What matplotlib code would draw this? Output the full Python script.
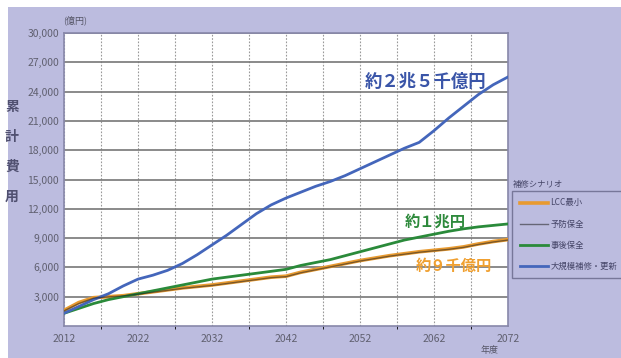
import matplotlib
matplotlib.use("Agg")
from matplotlib import pyplot as plt
from matplotlib.patches import Rectangle

plt.rcParams['font.family'] = ['Noto Sans CJK JP', 'DejaVu Sans']

# data (億円)
years = list(range(2012, 2073, 2))
large_repair = [1300, 2000, 2700, 3300, 4100, 4800, 5200, 5700, 6400, 7300,
                8300, 9300, 10400, 11500, 12400, 13100, 13700, 14300, 14800, 15400,
                16100, 16800, 17500, 18200, 18800, 20000, 21300, 22500, 23700, 24700, 25500]
post_maint = [1300, 1800, 2300, 2700, 3000, 3300, 3600, 3900, 4200, 4500,
              4800, 5000, 5200, 5400, 5600, 5800, 6200, 6500, 6800, 7200,
              7600, 8000, 8400, 8800, 9100, 9400, 9700, 9950, 10150, 10300, 10450]
lcc_min = [1600, 2400, 2900, 3000, 3100, 3300, 3500, 3700, 3900, 4050,
           4200, 4400, 4600, 4800, 5000, 5100, 5500, 5800, 6100, 6400,
           6700, 6950, 7200, 7400, 7600, 7750, 7900, 8100, 8400, 8650, 8850]
preventive = [1550, 2300, 2850, 2980, 3080, 3260, 3450, 3650, 3850, 4000,
              4150, 4350, 4550, 4750, 4950, 5050, 5450, 5750, 6050, 6350,
              6650, 6900, 7150, 7350, 7550, 7700, 7850, 8050, 8350, 8600, 8800]

legend_names = ['LCC最小', '予防保全', '事後保全', '大規模補修・更新']
yticks = list(range(3000, 30001, 3000))
xticks = list(range(2012, 2073, 10))

bg = '#bcbcdf'
fig = plt.figure(figsize=(6.21, 3.58), dpi=100)
fig.patch.set_facecolor('white')
fig.patches.append(Rectangle((8/621, 0), 1, 351/358, transform=fig.transFigure,
                             facecolor=bg, edgecolor='none', zorder=-10))

ax = fig.add_axes([64/621, 1 - 326/358, 444/621, 293/358])
ax.set_facecolor('white')

ax.plot(years, lcc_min, color='#e89a30', lw=2.6, label=legend_names[0], zorder=3)
ax.plot(years, preventive, color='#202020', lw=1.0, alpha=0.55, label=legend_names[1], zorder=4)
ax.plot(years, post_maint, color='#2a8a3a', lw=2.0, label=legend_names[2], zorder=3)
ax.plot(years, large_repair, color='#4466bb', lw=2.0, label=legend_names[3], zorder=3)

ax.set_xlim(2012, 2072)
ax.set_ylim(0, 30000)
ax.set_yticks(yticks)
ax.set_yticklabels([f'{v:,}' for v in yticks])
ax.set_xticks(xticks)
ax.set_xticks(list(range(2017, 2072, 5)), minor=True)
ax.tick_params(axis='both', length=0, labelsize=7.5, labelcolor='#606070')
ax.tick_params(axis='x', pad=6)
ax.grid(axis='y', color='#777777', lw=1.2)
ax.grid(axis='x', which='both', color='#999999', lw=0.8, ls=(0, (1.5, 1.5)))
ax.set_axisbelow(True)
for s in ax.spines.values():
    s.set_color('#8888aa')
    s.set_linewidth(1.2)

# texts
fig.text(75/621, 1 - 20/358, '(億円)', fontsize=6.5, color='#555566', ha='center', va='center')
fig.text(490/621, 1 - 350/358, '年度', fontsize=6.5, color='#555566', ha='center', va='center')
for ch, yy in zip('累計費用', [107, 137, 167, 197]):
    fig.text(12/621, 1 - yy/358, ch, fontsize=10, fontweight='bold', color='#505070',
             ha='center', va='center')

ax.text(2060.8, 25000, '約２兆５千億円', fontsize=12.5, fontweight='bold', color='#3a55a8',
        ha='center', va='center')
ax.text(2062.1, 10700, '約１兆円', fontsize=11, fontweight='bold', color='#2e8a3c',
        ha='center', va='center')
ax.text(2064.7, 6150, '約９千億円', fontsize=11, fontweight='bold', color='#f0a030',
        ha='center', va='center')

fig.text(513/621, 1 - 185/358, '補修シナリオ', fontsize=6, color='#444466', ha='left', va='center')
leg = fig.legend(loc='upper left', bbox_to_anchor=(512/621, 1 - 191/358), borderaxespad=0,
                 fontsize=6, frameon=True, handlelength=3.4, handletextpad=0.3,
                 labelspacing=1.45, borderpad=0.9)
leg.get_frame().set_facecolor(bg)
leg.get_frame().set_edgecolor('#777799')
leg.get_frame().set_alpha(1)
leg.get_frame().set_boxstyle('square', pad=0)
for t in leg.get_texts():
    t.set_color('#444466')

fig.savefig('out.png', dpi=100)
